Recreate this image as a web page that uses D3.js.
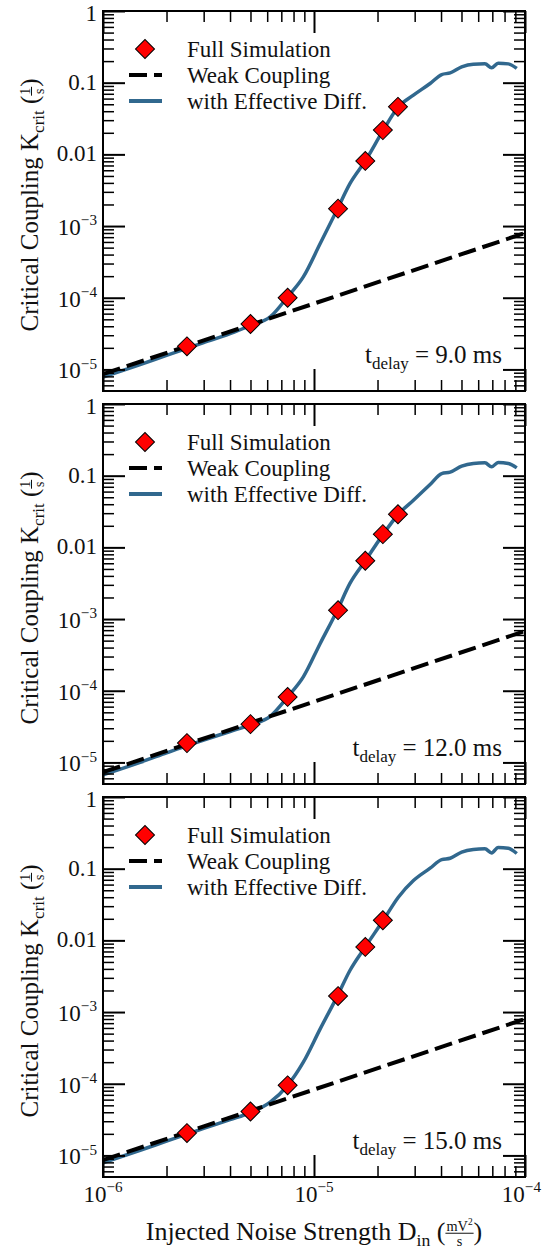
<!DOCTYPE html>
<html>
<head>
<meta charset="utf-8">
<script src="https://cdnjs.cloudflare.com/ajax/libs/d3/7.8.5/d3.min.js"></script>
<style>
  body { margin: 0; background: #fff; }
  svg text { font-family: "Liberation Serif", "Times New Roman", serif; fill: #111; }
</style>
</head>
<body>
<svg id="chart" width="542" height="1252"></svg>
<script>
// ---- data -------------------------------------------------------------
const delays = ["9.0", "12.0", "15.0"];

// Full simulation points (noise strength D_in, critical coupling K_crit)
const simD9  = [2.5e-6, 5e-6, 7.5e-6, 1.3e-5, 1.75e-5, 2.12e-5, 2.5e-5];
const simK9  = [2.1e-5, 4.3e-5, 1.0e-4, 1.75e-3, 8.1e-3, 0.0218, 0.046];
const simD12 = [2.5e-6, 5e-6, 7.5e-6, 1.3e-5, 1.75e-5, 2.12e-5, 2.5e-5];
const simK12 = [1.86e-5, 3.42e-5, 8.2e-5, 1.33e-3, 6.5e-3, 0.0153, 0.029];
const simD15 = [2.5e-6, 5e-6, 7.5e-6, 1.3e-5, 1.75e-5, 2.12e-5];
const simK15 = [2.05e-5, 4.1e-5, 9.5e-5, 1.67e-3, 8.1e-3, 0.0191];

// Weak coupling theory (straight line in log-log)
const weakD   = [1e-6, 1e-4];
const weakK9  = [8.6e-6, 8.0e-4];
const weakK12 = [7.3e-6, 6.8e-4];
const weakK15 = [8.6e-6, 8.0e-4];

// Theory with effective diffusion
const effD = [1e-6, 1.5e-6, 2e-6, 2.5e-6, 3e-6, 4e-6, 5e-6, 6.2e-6, 7.5e-6, 8.9e-6,
              1.07e-5, 1.29e-5, 1.48e-5, 1.75e-5, 2.13e-5, 2.51e-5, 2.96e-5, 3.55e-5,
              4.03e-5, 4.42e-5, 5.01e-5, 5.69e-5, 6.46e-5, 6.95e-5, 7.46e-5, 8.34e-5, 9.14e-5];
const effK9  = [7.8e-6, 1.17e-5, 1.57e-5, 1.97e-5, 2.37e-5, 3.15e-5, 4.1e-5, 5.4e-5, 1.03e-4, 1.95e-4,
                5.7e-4, 1.72e-3, 3.9e-3, 8.1e-3, 0.0218, 0.046, 0.067, 0.0975,
                0.130, 0.137, 0.166, 0.181, 0.183, 0.161, 0.187, 0.183, 0.158];
const effK12 = [6.7e-6, 1.0e-5, 1.36e-5, 1.72e-5, 2.05e-5, 2.7e-5, 3.35e-5, 4.4e-5, 8.2e-5, 1.56e-4,
                4.57e-4, 1.33e-3, 3.14e-3, 6.5e-3, 0.0153, 0.029, 0.0455, 0.0753,
                0.107, 0.112, 0.1355, 0.148, 0.151, 0.133, 0.153, 0.148, 0.1285];
const effK15 = [7.9e-6, 1.18e-5, 1.58e-5, 1.98e-5, 2.38e-5, 3.15e-5, 3.95e-5, 5.53e-5, 9.5e-5, 2.0e-4,
                5.83e-4, 1.67e-3, 3.8e-3, 8.1e-3, 0.0191, 0.040, 0.0684, 0.1016,
                0.134, 0.140, 0.170, 0.185, 0.189, 0.166, 0.198, 0.193, 0.163];

// Tick values and labels
const xMajor = [1e-6, 1e-5, 1e-4];
const xTickLabels = ["10^\u22126", "10^\u22125", "10^\u22124"];
const yMajor = [1e-5, 1e-4, 1e-3, 0.01, 0.1, 1];
const yTickLabels = ["10^\u22125", "10^\u22124", "10^\u22123", "0.01", "0.1", "1"];

const legendLabels = ["Full Simulation", "Weak Coupling", "with Effective Diff."];

const panels = [
  { delay: delays[0], simD: simD9,  simK: simK9,  weak: weakK9,  eff: effK9 },
  { delay: delays[1], simD: simD12, simK: simK12, weak: weakK12, eff: effK12 },
  { delay: delays[2], simD: simD15, simK: simK15, weak: weakK15, eff: effK15 }
];

// ---- layout -----------------------------------------------------------
const X0 = 103, X1 = 525;
const panelTops = [11, 404, 797];
const panelH = 380;
const BLUE = "#31688e";
const TICK_FS = 23;

const svg = d3.select("#chart");
const x = d3.scaleLog().domain([1e-6, 1e-4]).range([X0, X1]);

// minor tick positions
const xMinor = [];
for (let e = -6; e < -4; e++) for (let k = 2; k <= 9; k++) xMinor.push(k * Math.pow(10, e));
const yMinor = [];
for (let e = -6; e < 0; e++) for (let k = 2; k <= 9; k++) {
  const v = k * Math.pow(10, e);
  if (v > 5.01e-6) yMinor.push(v);
}

// text with an optional power-of-ten superscript: "10^-3"
function powerText(sel, label, fs) {
  const parts = label.split("^");
  sel.append("tspan").text(parts[0]);
  if (parts.length > 1) {
    sel.append("tspan").attr("dy", -0.42 * fs).style("font-size", (fs * 0.66) + "px").text(parts[1]);
  }
}

// build a run of text pieces and fractions laid out left to right inside g
function richLabel(g, pieces, fs) {
  let cx = 0;
  pieces.forEach(p => {
    if (p.frac) {
      const fsz = fs * 0.55;
      const num = g.append("text").attr("y", -fs * 0.33).style("font-size", fsz + "px")
        .attr("text-anchor", "middle");
      powerText(num, p.frac[0], fsz);
      const den = g.append("text").attr("y", fs * 0.22).style("font-size", fsz + "px")
        .attr("text-anchor", "middle").text(p.frac[1]);
      const w = Math.max(num.node().getComputedTextLength(), den.node().getComputedTextLength()) + 2;
      num.attr("x", cx + w / 2);
      den.attr("x", cx + w / 2);
      g.append("line").attr("x1", cx).attr("x2", cx + w)
        .attr("y1", -fs * 0.26).attr("y2", -fs * 0.26)
        .attr("stroke", "#111").attr("stroke-width", 1);
      cx += w;
    } else {
      const size = p.sub ? fs * 0.68 : fs;
      const t = g.append("text").attr("x", cx).attr("y", p.sub ? fs * 0.22 : 0)
        .style("font-size", size + "px").text(p.t);
      cx += t.node().getComputedTextLength();
    }
  });
  return cx;
}

panels.forEach((p, i) => {
  const top = panelTops[i];
  const bottom = top + panelH;
  const y = d3.scaleLog().domain([5e-6, 1]).range([bottom, top]);
  const g = svg.append("g");

  const clipId = "clip" + i;
  svg.append("clipPath").attr("id", clipId)
    .append("rect").attr("x", X0).attr("y", top).attr("width", X1 - X0).attr("height", panelH);

  const plot = g.append("g").attr("clip-path", `url(#${clipId})`);

  // effective diffusion curve
  plot.append("path")
    .datum(d3.zip(effD, p.eff))
    .attr("d", d3.line().x(d => x(d[0])).y(d => y(d[1])).curve(d3.curveMonotoneX))
    .attr("fill", "none").attr("stroke", BLUE).attr("stroke-width", 3.5)
    .attr("stroke-linejoin", "round");

  // weak coupling line
  plot.append("path")
    .datum(d3.zip(weakD, p.weak))
    .attr("d", d3.line().x(d => x(d[0])).y(d => y(d[1])))
    .attr("fill", "none").attr("stroke", "#000").attr("stroke-width", 4)
    .attr("stroke-dasharray", "18,7");

  // full simulation diamonds
  const diamond = d3.symbol().type(d3.symbolSquare).size(180);
  plot.selectAll(".sim").data(d3.zip(p.simD, p.simK)).join("path")
    .attr("class", "sim")
    .attr("d", diamond)
    .attr("transform", d => `translate(${x(d[0])},${y(d[1])}) rotate(45)`)
    .attr("fill", "#ff0000").attr("stroke", "#000").attr("stroke-width", 1);

  // ticks on all four sides, pointing inward
  const styleAxis = (sel, w) => {
    sel.select(".domain").remove();
    sel.selectAll("line").attr("stroke", "#000").attr("stroke-width", w);
  };
  const axes = [
    [d3.axisLeft, `translate(${X0},0)`, y, yMajor, yMinor],
    [d3.axisRight, `translate(${X1},0)`, y, yMajor, yMinor],
    [d3.axisTop, `translate(0,${top})`, x, xMajor, xMinor],
    [d3.axisBottom, `translate(0,${bottom})`, x, xMajor, xMinor]
  ];
  axes.forEach(([fn, tr, sc, maj, min]) => {
    g.append("g").attr("transform", tr)
      .call(fn(sc).tickValues(maj).tickSize(-22).tickFormat(""))
      .call(s => styleAxis(s, 2));
    g.append("g").attr("transform", tr)
      .call(fn(sc).tickValues(min).tickSize(-11).tickFormat(""))
      .call(s => styleAxis(s, 1.5));
  });

  // frame
  g.append("rect").attr("x", X0).attr("y", top).attr("width", X1 - X0).attr("height", panelH)
    .attr("fill", "none").attr("stroke", "#000").attr("stroke-width", 2);

  // y tick labels (the top label sits a little lower so it stays on the page)
  yMajor.forEach((v, k) => {
    const lab = yTickLabels[k];
    const shift = lab.includes("^") ? 9 : (v === 1 ? 10 : 7);
    const t = g.append("text").attr("x", 97)
      .attr("y", y(v) + shift)
      .attr("text-anchor", "end").style("font-size", TICK_FS + "px");
    powerText(t, lab, TICK_FS);
  });

  // legend
  const lg = g.append("g").attr("transform", `translate(0,${top})`);
  lg.append("path").attr("d", diamond)
    .attr("transform", "translate(145,38) rotate(45)")
    .attr("fill", "#ff0000").attr("stroke", "#000").attr("stroke-width", 1);
  lg.append("line").attr("x1", 129).attr("x2", 162).attr("y1", 64).attr("y2", 64)
    .attr("stroke", "#000").attr("stroke-width", 4).attr("stroke-dasharray", "18,7");
  lg.append("line").attr("x1", 129).attr("x2", 162).attr("y1", 90).attr("y2", 90)
    .attr("stroke", BLUE).attr("stroke-width", 4);
  legendLabels.forEach((s, k) => {
    lg.append("text").attr("x", 187).attr("y", 38 + 26 * k + 8)
      .style("font-size", "23px").text(s);
  });

  // delay annotation
  const td = g.append("g");
  const tw = richLabel(td, [{ t: "t" }, { t: "delay", sub: true }, { t: "\u00a0= " + p.delay + " ms" }], 25);
  td.attr("transform", `translate(${502 - tw},${top + 352})`);

  // y axis title
  const yl = svg.append("g").attr("transform", `translate(38,${top + panelH / 2 + 4}) rotate(-90)`);
  const inner = yl.append("g");
  const yw = richLabel(inner, [
    { t: "Critical Coupling K" }, { t: "crit", sub: true }, { t: "\u00a0(" },
    { frac: ["1", "s"] }, { t: ")" }
  ], 25);
  inner.attr("transform", `translate(${-yw / 2},0)`);

  // x tick labels on the bottom panel; the last one is kept inside the page edge
  if (i === panels.length - 1) {
    xMajor.forEach((v, k) => {
      const last = k === xMajor.length - 1;
      const t = g.append("text").attr("x", last ? 541 : x(v)).attr("y", bottom + 25)
        .attr("text-anchor", last ? "end" : "middle").style("font-size", TICK_FS + "px");
      powerText(t, xTickLabels[k], TICK_FS);
    });
  }
});

// x axis title
const xl = svg.append("g");
const xw = richLabel(xl, [
  { t: "Injected Noise Strength D" }, { t: "in", sub: true }, { t: "\u00a0(" },
  { frac: ["mV^2", "s"] }, { t: ")" }
], 26);
xl.attr("transform", `translate(${(X0 + X1) / 2 - xw / 2},1240)`);
</script>
</body>
</html>
